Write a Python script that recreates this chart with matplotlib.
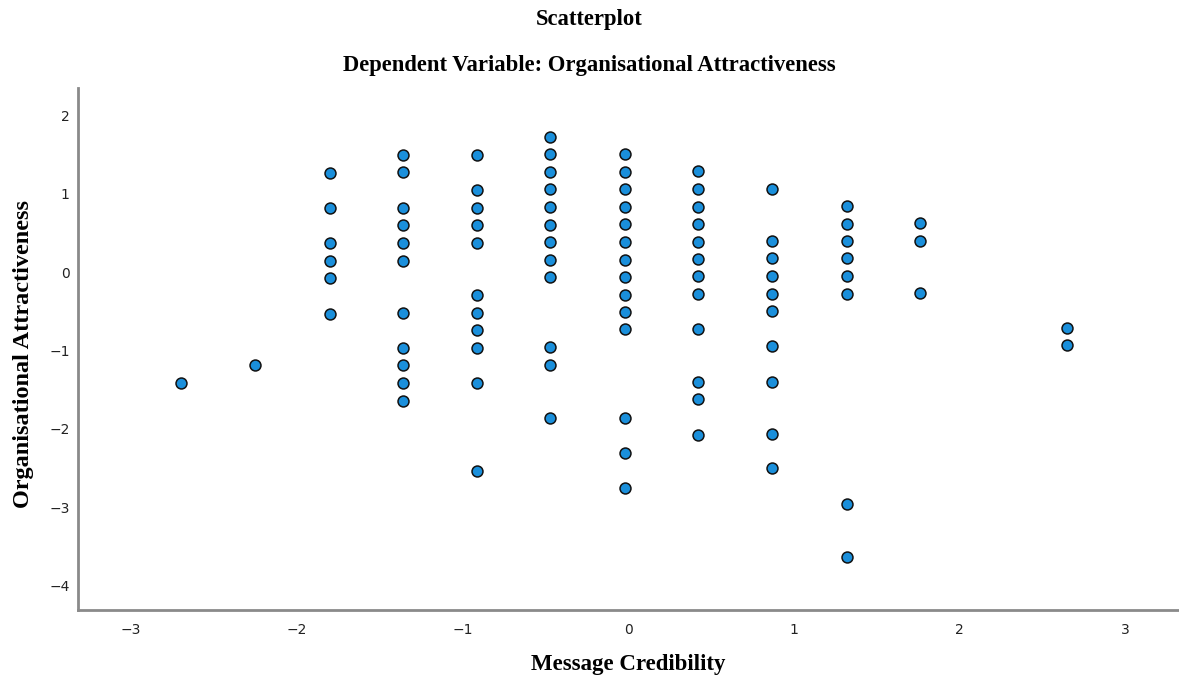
import matplotlib
matplotlib.use("Agg")
import matplotlib.pyplot as plt

# Standardised scores, grouped by Message Credibility level
credibility_levels = [-2.70, -2.25, -1.80, -1.36, -0.91, -0.47, -0.02, 0.42, 0.87, 1.32, 1.76, 2.65]
attractiveness_by_level = [
    [-1.42],
    [-1.19],
    [1.263, 0.817, 0.370, 0.146, -0.080, -0.527],
    [1.498, 1.272, 0.822, 0.596, 0.375, 0.149, -0.518, -0.965, -1.190, -1.420, -1.637],
    [1.498, 1.046, 0.822, 0.596, 0.375, -0.293, -0.518, -0.740, -0.965, -1.420, -2.530],
    [1.723, 1.502, 1.281, 1.055, 0.829, 0.605, 0.379, 0.153, -0.064, -0.957, -1.190, -1.854],
    [1.511, 1.281, 1.055, 0.834, 0.609, 0.383, 0.158, -0.064, -0.285, -0.505, -0.731, -1.854, -2.301, -2.747],
    [1.289, 1.062, 0.838, 0.612, 0.389, 0.166, -0.052, -0.276, -0.729, -1.398, -1.624, -2.073],
    [1.064, 0.396, 0.175, -0.051, -0.272, -0.498, -0.944, -1.395, -2.067, -2.498],
    [0.847, 0.621, 0.401, 0.179, -0.046, -0.272, -2.955, -3.628],
    [0.625, 0.404, -0.268],
    [-0.706, -0.935],
]
x_ticks = [-3, -2, -1, 0, 1, 2, 3]
y_ticks = [-4, -3, -2, -1, 0, 1, 2]

xs, ys = [], []
for level, vals in zip(credibility_levels, attractiveness_by_level):
    for v in vals:
        xs.append(level)
        ys.append(v)

fig = plt.figure(figsize=(11.79, 6.80), dpi=100)
ax = fig.add_axes([0.0662, 0.1029, 0.933, 0.7677])

ax.scatter(xs, ys, s=62, c="#1a8fdb", edgecolors="#111111", linewidths=1.1, zorder=3)

ax.set_xlim(-3.32, 3.32)
ax.set_ylim(-4.31, 2.35)
ax.set_xticks(x_ticks)
ax.set_yticks(y_ticks)
ax.set_xticklabels([str(t).replace("-", "\u2212") for t in x_ticks])
ax.set_yticklabels([str(t).replace("-", "\u2212") for t in y_ticks])
ax.tick_params(length=0, labelsize=10, colors="#222222")
ax.tick_params(axis="x", pad=9)
ax.tick_params(axis="y", pad=6)

for side in ("top", "right"):
    ax.spines[side].set_visible(False)
for side in ("left", "bottom"):
    ax.spines[side].set_color("#8a8a8a")
    ax.spines[side].set_linewidth(2.0)

serif = ["Liberation Serif", "DejaVu Serif"]
ax.set_xlabel("Message Credibility", fontsize=16.5, fontweight="bold", family=serif)
ax.set_ylabel("Organisational Attractiveness", fontsize=17.5, fontweight="bold", family=serif)
ax.xaxis.set_label_coords(0.5, -44 / 522.0)
ax.yaxis.set_label_coords(-44 / 1100.0, 0.49)

fig.text(0.5, 1 - 20 / 680, "Scatterplot", ha="center", va="center",
         fontsize=16.3, fontweight="bold", family=serif)
fig.text(0.5, 1 - 65 / 680, "Dependent Variable: Organisational Attractiveness", ha="center", va="center",
         fontsize=16.3, fontweight="bold", family=serif)

fig.savefig("out.png", dpi=100, facecolor="white")
